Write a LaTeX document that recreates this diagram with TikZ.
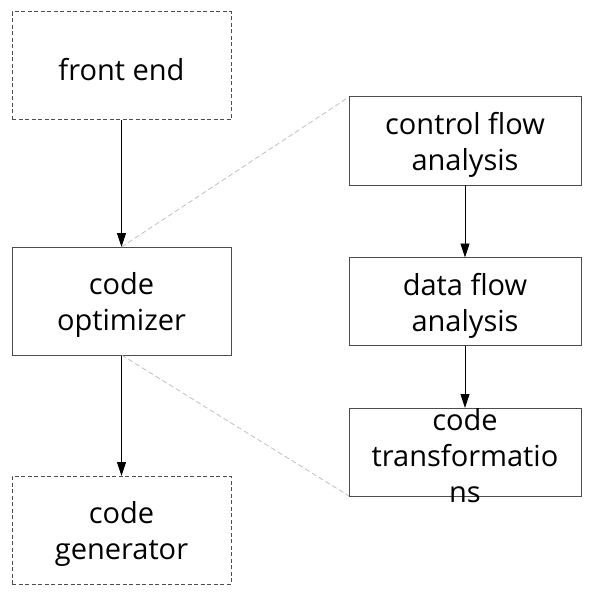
\documentclass[tikz,border=0pt]{standalone}
\usepackage{fontspec}
\setmainfont{Open Sans}
\usetikzlibrary{arrows.meta}
\begin{document}
\begin{tikzpicture}[x=1pt,y=-1pt,
  box/.style={draw=black!70,line width=1pt,rectangle,inner sep=0pt,outer sep=0pt},
  txt/.style={align=center,font=\fontsize{29}{36}\selectfont,text=black,inner sep=0pt,yshift=-4pt},
  bigbox/.style={box,minimum width=219pt,minimum height=108pt},
  smallbox/.style={box,minimum width=232pt,minimum height=88pt},
  dashbox/.style={dash pattern=on 4pt off 2.5pt},
  arr/.style={-{Triangle[length=14pt,width=9pt]},line width=0.8pt,black},
  zoomline/.style={draw=black!25,line width=0.8pt,dash pattern=on 5pt off 3pt}]
\useasboundingbox (0,0) rectangle (599,604);
\node[bigbox,dashbox,label={[txt,name=fet]center:front end}] (fe) at (121.5,66) {};
\node[bigbox,label={[txt,name=optt]center:code\\optimizer}] (opt) at (121.5,301) {};
\node[bigbox,dashbox,label={[txt,name=gent]center:code\\generator}] (gen) at (121.5,530) {};
\node[smallbox,label={[txt,name=cfat]center:control flow\\analysis}] (cfa) at (465,141) {};
\node[smallbox,label={[txt,name=dfat]center:data flow\\analysis}] (dfa) at (465,301.5) {};
\node[smallbox,label={[txt,name=ctt]center:code\\transformatio\\ns}] (ct) at (465,452) {};
\draw[arr] (fe.south) -- (opt.north);
\draw[arr] (opt.south) -- (gen.north);
\draw[arr] (cfa.south) -- (dfa.north);
\draw[arr] (dfa.south) -- (ct.north);
\draw[zoomline] (opt.north) -- (cfa.north west);
\draw[zoomline] (opt.south) -- (ct.south west);
\end{tikzpicture}
\end{document}
